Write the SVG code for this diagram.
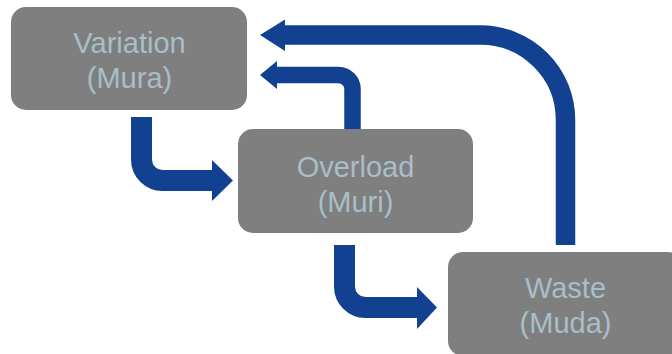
<svg xmlns="http://www.w3.org/2000/svg" width="672" height="354" viewBox="0 0 672 354">
  <style>
    .box { fill: #7f7f7f; }
    .label { font-family: "Liberation Sans", Arial, sans-serif; font-size: 29px; fill: #a8bec8; text-anchor: middle; }
    .flow { fill: none; stroke: #124191; }
    .head { fill: #124191; }
  </style>
  <rect width="672" height="354" fill="#ffffff"/>

  <!-- connectors -->
  <g id="connectors">
    <!-- Waste back to Variation (outer loop) -->
    <path class="flow" stroke-width="19.5" d="M565.5,245 V120 A85,85 0 0 0 480.5,35 H284"/>
    <polygon class="head" points="285,19.5 260,35 285,51"/>
    <!-- Overload back to Variation (inner loop) -->
    <path class="flow" stroke-width="16.5" d="M352.5,130 V89 A14,14 0 0 0 338.5,75 H276"/>
    <polygon class="head" points="277,61 260,75 277,89"/>
    <!-- Variation to Overload -->
    <path class="flow" stroke-width="21" d="M141.5,117 V159.5 A21,21 0 0 0 162.5,180.5 H213"/>
    <polygon class="head" points="212,160 233,180.5 212,201"/>
    <!-- Overload to Waste -->
    <path class="flow" stroke-width="21" d="M344.5,245 V286.5 A21,21 0 0 0 365.5,307.5 H418"/>
    <polygon class="head" points="417,287 437,307.5 417,329"/>
  </g>

  <g id="node-variation">
    <rect class="box" x="11" y="7" width="236" height="103" rx="15"/>
    <text class="label" x="129.5" y="53">Variation</text>
    <text class="label" x="129.5" y="88">(Mura)</text>
  </g>

  <g id="node-overload">
    <rect class="box" x="238" y="129" width="235" height="104" rx="15"/>
    <text class="label" x="355.5" y="177">Overload</text>
    <text class="label" x="355.5" y="212">(Muri)</text>
  </g>

  <g id="node-waste">
    <rect class="box" x="448" y="252" width="235" height="104" rx="15"/>
    <text class="label" x="565.5" y="298">Waste</text>
    <text class="label" x="565.5" y="333">(Muda)</text>
  </g>
</svg>
